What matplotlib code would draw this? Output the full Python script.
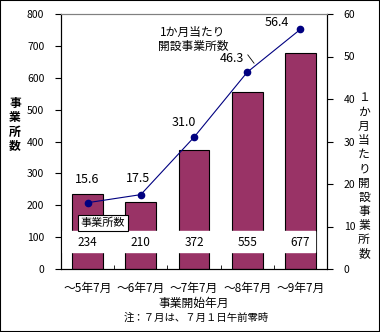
import numpy as np
import matplotlib.pyplot as plt
from matplotlib.patches import Rectangle

plt.rcParams['font.family'] = ['Noto Sans CJK JP', 'DejaVu Sans']

periods = ['～5年7月', '～6年7月', '～7年7月', '～8年7月', '～9年7月']
offices = [234, 210, 372, 555, 677]
monthly = [15.6, 17.5, 31.0, 46.3, 56.4]

# label offsets (points) for the line values
line_label_offsets = [(0, 12), (-2, 7), (-7, 6), (-11, 5), (-17, 0)]

fig = plt.figure(figsize=(3.8, 3.32), dpi=100)
ax = fig.add_axes([61 / 380, 63 / 332, 266 / 380, 255 / 332])
x = np.arange(len(periods))

ax.bar(x, offices, width=0.58, color='#993366', edgecolor='black', linewidth=0.8, zorder=2)
ax.set_xlim(-0.5, 4.5)
ax.set_ylim(0, 800)
ax.set_yticks(np.arange(0, 801, 100))

# white strip holding the bar values
ax.axhspan(53, 119, xmin=0, xmax=0.955, color='white', zorder=3)
for xi, v in zip(x, offices):
    ax.text(xi, 82, str(v), ha='center', va='center', fontsize=8.5, zorder=4)

ax.text(0.29, 144, '事業所数', ha='center', va='center', fontsize=8, zorder=5,
        bbox=dict(boxstyle='square,pad=0.25', fc='white', ec='black', lw=0.8))

ax.set_xticks(x)
ax.set_xticklabels(periods, fontsize=8.5)
ax.set_xticks(np.arange(0.5, 4, 1), minor=True)
ax.tick_params(axis='x', which='major', length=0, pad=9)
ax.tick_params(axis='x', which='minor', length=3, direction='in')
ax.tick_params(axis='y', labelsize=7.5, length=4, direction='out', pad=8)

for s in ['left', 'bottom', 'right']:
    ax.spines[s].set_color('black')
ax.spines['top'].set_color('#808080')

ax2 = ax.twinx()
ax2.plot(x, monthly, color='#000080', lw=0.8, marker='o', ms=4.5,
         markerfacecolor='#000080', markeredgecolor='#000080', zorder=6)
ax2.set_ylim(0, 60)
ax2.set_yticks(np.arange(0, 61, 10))
ax2.tick_params(axis='y', labelsize=7.5, length=4, direction='out', pad=8)
ax2.spines['top'].set_color('#808080')
for xi, v, off in zip(x, monthly, line_label_offsets):
    ax2.annotate(f'{v:.1f}', (xi, v), xytext=off, textcoords='offset points',
                 ha='center', va='bottom', fontsize=9)

ax2.text(1.98, 54.0, '1か月当たり\n開設事業所数', ha='center', va='center',
         fontsize=8.5, linespacing=1.05)
ax2.annotate('', xy=(3.13, 48.4), xytext=(3.01, 50.4),
             arrowprops=dict(arrowstyle='-', color='black', lw=0.6,
                             shrinkA=0, shrinkB=0))

ax.text(0.5, -0.11, '事業開始年月', transform=ax.transAxes, ha='center', va='top', fontsize=8.5)
fig.text(196 / 380, 1 - 318 / 332, '注：７月は、７月１日午前零時', ha='center', va='center', fontsize=7.5)

fig.text(15 / 380, 1 - 125 / 332, '事\n業\n所\n数', ha='center', va='center',
         fontsize=8.5, linespacing=1.1, fontweight='bold')
fig.text(364 / 380, 1 - 176 / 332, '１\nか\n月\n当\nた\nり\n開\n設\n事\n業\n所\n数',
         ha='center', va='center', fontsize=8.5, linespacing=1.12)

fig.patches.append(Rectangle((0, 0), 1, 1, transform=fig.transFigure, fill=False,
                             ec='black', lw=1.5))

fig.savefig('out.png', dpi=100)
